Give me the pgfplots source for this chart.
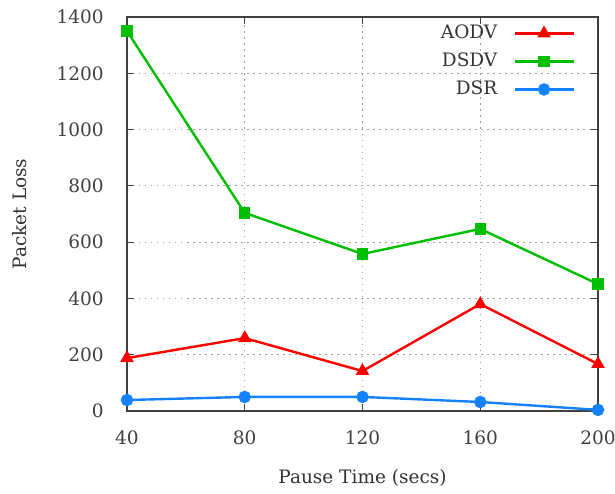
\documentclass[border=0pt]{standalone}
\usepackage{pgfplots}
\pgfplotsset{compat=1.18}
\usepackage{fontspec}
\setmainfont{DejaVu Serif}
\definecolor{aodv}{RGB}{255,0,0}
\definecolor{dsdv}{RGB}{0,190,0}
\definecolor{dsr}{RGB}{20,130,255}
\begin{document}
\fontsize{18.5}{22}\selectfont
\begin{tikzpicture}
\useasboundingbox (-127pt,-82pt) rectangle (488pt,411pt);
\begin{axis}[
    at={(0pt,0pt)}, anchor=south west,
    scale only axis,
    width=471pt, height=394pt,
    xmin=40, xmax=200, ymin=0, ymax=1400,
    xtick={40,80,120,160,200},
    ytick={0,200,400,600,800,1000,1200,1400},
    tick align=inside,
    major tick length=7pt,
    grid=major,
    grid style={gray!75, line width=0.9pt, dash pattern=on 1.5pt off 4.5pt},
    axis line style={black!75, line width=1.5pt},
    tick style={black!75, line width=1.2pt},
    /pgf/number format/assume math mode=true,
    /pgf/number format/1000 sep={},
    xlabel={Pause Time (secs)},
    ylabel={Packet Loss},
    ticklabel style={font=\fontsize{18.5}{22}\selectfont, text=black!75},
    every axis x label/.style={at={(axis description cs:0.5,0)}, yshift=-67pt, anchor=center,
        font=\fontsize{18.5}{22}\selectfont, text=black!80},
    every axis y label/.style={at={(axis description cs:0,0.5)}, xshift=-107pt, rotate=90, anchor=center,
        font=\fontsize{18.5}{22}\selectfont, text=black!80},
    xticklabel style={yshift=-13pt},
    yticklabel style={xshift=-17pt},
    clip=false,
    legend style={draw=none, fill=none, at={(rel axis cs:0.951,1)}, anchor=north east,
        inner sep=0pt, yshift=-6pt,
        font=\fontsize{18.5}{22}\selectfont, text=black!80, row sep=7.5pt},
    legend plot pos=right,
    legend cell align=right,
    legend image code/.code={\path (0pt,0pt);
        \draw[mark repeat=2, mark phase=2] plot coordinates {(14pt,0pt) (43.5pt,0pt) (73pt,0pt)};},
]
\addplot[aodv, line width=2.4pt, mark=triangle*, mark size=5.5pt, mark options={solid}] coordinates {
    (40,188) (80,259) (120,142) (160,380) (200,167)
};
\addlegendentry{AODV}
\addplot[dsdv, line width=2.4pt, mark=square*, mark size=4.5pt] coordinates {
    (40,1350) (80,704) (120,558) (160,647) (200,451)
};
\addlegendentry{DSDV}
\addplot[dsr, line width=2.4pt, mark=*, mark size=5pt] coordinates {
    (40,39) (80,50) (120,50) (160,32) (200,4)
};
\addlegendentry{DSR}
\end{axis}
\end{tikzpicture}
\end{document}
